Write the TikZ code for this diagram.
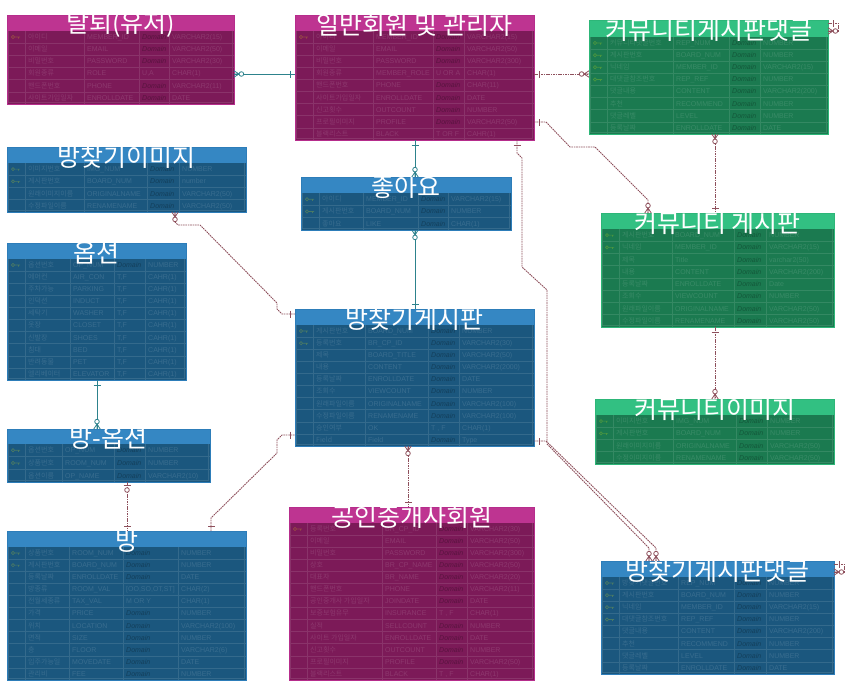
\documentclass[tikz,border=0pt]{standalone}
\usepackage{fontspec}
\setmainfont{Liberation Sans}
\newfontfamily\kr{Noto Sans CJK KR}
\usetikzlibrary{calc}

\definecolor{mghead}{RGB}{190,52,145}
\definecolor{mgbody}{RGB}{124,26,88}
\definecolor{mgline}{RGB}{182,45,140}
\definecolor{blhead}{RGB}{53,135,195}
\definecolor{blbody}{RGB}{27,87,126}
\definecolor{blline}{RGB}{45,125,185}
\definecolor{grhead}{RGB}{50,192,130}
\definecolor{grbody}{RGB}{27,122,80}
\definecolor{grline}{RGB}{45,182,120}
\definecolor{tealc}{RGB}{45,130,140}
\definecolor{brownc}{RGB}{142,80,92}

\newcount\rowi
\newcommand\settable[7]{\def\tX{#2}\def\tA{#3}\def\tB{#4}\def\tC{#5}\def\tD{#6}\def\tXe{#7}%
  \colorlet{cH}{#1head}\colorlet{cB}{#1body}\colorlet{cL}{#1line}%
  \colorlet{cG}{cB!89!white}\colorlet{cT}{cB!87!white}\colorlet{cD}{cB!72!black}\colorlet{cK}{cB!80!yellow}}
% #1 name, #2 top, #3 header bottom, #4 bottom, #5 rows
\newcommand\ertable[5]{\def\tname{#1}\def\tY{#2}\def\tH{#3}%
  \pgfmathsetmacro\tR{(#4-#3)/#5}\global\rowi=0
  \fill[cH] (\tX,-#2) rectangle (\tXe,-#3);
  \fill[cB] (\tX,-#3) rectangle (\tXe,-#4);
  \pgfmathtruncatemacro\tN{#5-1}
  \foreach \i in {1,...,\tN}{\draw[cG,line width=0.6pt] (\tX,{-(\tH+\i*\tR)}) -- (\tXe,{-(\tH+\i*\tR)});}
  \foreach \cc in {\tA,\tB,\tC,\tD}{\draw[cG,line width=0.6pt] (\cc,-#3) -- (\cc,-#4);}
  \draw[cG,line width=0.6pt] (\tX+1.5,-#3) -- (\tX+1.5,-#4+1.5) -- (\tXe-1.5,-#4+1.5) -- (\tXe-1.5,-#3);
  \pgfmathsetmacro\tW{\tXe-\tX}\pgfmathsetmacro\tHt{#4-#2}
  \node[draw=cL,line width=1pt,inner sep=0pt,outer sep=0pt,minimum width=\tW pt,minimum height=\tHt pt,anchor=north west] (#1) at (\tX,-#2) {};
}
\newcommand\D{{\color{cD}\itshape Domain}}
\newcommand\erow[5]{\global\advance\rowi by 1
  \pgfmathsetmacro\ry{-(\tH+(\the\rowi-0.5)*\tR)}
  \if n#1\else \draw[cK,line width=0.7pt] (\tX+6,\ry) circle (1.6) (\tX+7.6,\ry) -- (\tX+13,\ry) (\tX+11.5,\ry) -- ++(0,-1.6);\fi
  \node[rt] (\tname-\the\rowi-a) at (\tA+3,\ry-2.4) {\kr #2};
  \node[rt] (\tname-\the\rowi-b) at (\tB+3,\ry-2.4) {#3};
  \node[rt] (\tname-\the\rowi-c) at (\tC+3,\ry-2.4) {#4};
  \node[rt] (\tname-\the\rowi-d) at (\tD+3,\ry-2.4) {#5};
}
\newcommand\etitle[1]{\node[titletext] (\tname-title) at ({(\tX+\tXe)/2},{-((\tY+\tH)/2+2)}) {#1};}

\tikzset{
  rt/.style={anchor=base west,inner sep=0pt,text=cT,font=\fontsize{7}{8}\selectfont},
  titletext/.style={inner sep=0pt,text=white,font=\kr\fontsize{25}{26}\selectfont},
  tline/.style={draw=tealc,line width=0.9pt},
  bline/.style={draw=brownc,line width=0.9pt,dash pattern=on 1.6pt off 0.8pt},
  mk/.style={line width=0.8pt,solid},
  pics/one/.style={code={\draw[mk] (5,-3.5) -- (5,3.5);}},
  pics/zm/.style={code={\draw[mk] (0,-3.2) -- (5,0) -- (0,3.2) (0,0) -- (5,0); \draw[mk,fill=white] (7.4,0) circle (2.3);}},
  pics/zo/.style={code={\draw[mk] (3,-3.5) -- (3,3.5); \draw[mk,fill=white] (8,0) circle (2.3);}},
}

\begin{document}
\begin{tikzpicture}[x=1pt,y=1pt]
\useasboundingbox[fill=white] (0,0) rectangle (859,-699);

% 탈퇴(유저)
\settable{mg}{7}{25}{84}{139}{169}{234}
\ertable{tt}{15}{31}{104}{6}
\erow{p}{아이디}{MEMBER\_ID}{\D}{VARCHAR2(15)}
\erow{n}{이메일}{EMAIL}{\D}{VARCHAR2(50)}
\erow{n}{비밀번호}{PASSWORD}{\D}{VARCHAR2(30)}
\erow{n}{회원종류}{ROLE}{U,A}{CHAR(1)}
\erow{n}{핸드폰번호}{PHONE}{\D}{VARCHAR2(11)}
\erow{n}{사이트가입일자}{ENROLLDATE}{\D}{DATE}
\etitle{탈퇴(유저)}

% 일반회원 및 관리자
\settable{mg}{295}{313}{373}{433}{464}{534}
\ertable{gm}{15}{31}{140}{9}
\erow{p}{아이디}{MEMBER\_ID}{\D}{VARCHAR2(15)}
\erow{n}{이메일}{EMAIL}{\D}{VARCHAR2(50)}
\erow{n}{비밀번호}{PASSWORD}{\D}{VARCHAR2(300)}
\erow{n}{회원종류}{MEMBER\_ROLE}{U OR A}{CHAR(1)}
\erow{n}{핸드폰번호}{PHONE}{\D}{CHAR(11)}
\erow{n}{사이트가입일자}{ENROLLDATE}{\D}{DATE}
\erow{n}{신고횟수}{OUTCOUNT}{\D}{NUMBER}
\erow{n}{프로필이미지}{PROFILE}{\D}{VARCHAR2(50)}
\erow{n}{블랙리스트}{BLACK}{T OR F}{CAHR(1)}
\etitle{일반회원 및 관리자}

% 커뮤니티게시판댓글
\settable{gr}{589}{607}{673}{729}{760}{828}
\ertable{cr}{20}{37}{134}{8}
\erow{p}{커뮤니티댓글번호}{REP\_NUM}{\D}{NUMBER}
\erow{f}{게시판번호}{BOARD\_NUM}{\D}{NUMBER}
\erow{f}{닉네임}{MEMBER\_ID}{\D}{VARCHAR2(15)}
\erow{f}{대댓글참조번호}{REP\_REF}{\D}{NUMBER}
\erow{n}{댓글내용}{CONTENT}{\D}{VARCHAR2(200)}
\erow{n}{추천}{RECOMMEND}{\D}{NUMBER}
\erow{n}{댓글레벨}{LEVEL}{\D}{NUMBER}
\erow{n}{등록날짜}{ENROLLDATE}{\D}{DATE}
\etitle{커뮤니티게시판댓글}

% 방찾기이미지
\settable{bl}{7}{25}{84}{147}{179}{246}
\ertable{bi}{147}{163}{212}{4}
\erow{p}{이미지번호}{IMG\_NUM}{\D}{NUMBER}
\erow{f}{게시판번호}{BOARD\_NUM}{\D}{number}
\erow{n}{원래이미지이름}{ORIGINALNAME}{\D}{VARCHAR2(50)}
\erow{n}{수정파일이름}{RENAMENAME}{\D}{VARCHAR2(50)}
\etitle{방찾기이미지}

% 옵션
\settable{bl}{7}{25}{70}{114}{145}{186}
\ertable{op}{243}{259}{380}{10}
\erow{p}{옵션번호}{OP\_NUM}{\D}{NUMBER}
\erow{n}{에어컨}{AIR\_CON}{T,F}{CAHR(1)}
\erow{n}{주차가능}{PARKING}{T,F}{CAHR(1)}
\erow{n}{인덕션}{INDUCT}{T,F}{CAHR(1)}
\erow{n}{세탁기}{WASHER}{T,F}{CAHR(1)}
\erow{n}{옷장}{CLOSET}{T,F}{CAHR(1)}
\erow{n}{신발장}{SHOES}{T,F}{CAHR(1)}
\erow{n}{침대}{BED}{T,F}{CAHR(1)}
\erow{n}{반려동물}{PET}{T,F}{CAHR(1)}
\erow{n}{엘리베이터}{ELEVATOR}{T,F}{CAHR(1)}
\etitle{옵션}

% 좋아요
\settable{bl}{301}{319}{363}{418}{448}{511}
\ertable{lk}{177}{193}{230}{3}
\erow{p}{아이디}{MEMBER\_ID}{\D}{VARCHAR2(15)}
\erow{p}{게시판번호}{BOARD\_NUM}{\D}{NUMBER}
\erow{n}{좋아요}{LIKE}{\D}{CHAR(1)}
\etitle{좋아요}

% 방찾기게시판
\settable{bl}{295}{313}{365}{428}{459}{534}
\ertable{bb}{309}{325}{446}{10}
\erow{p}{게시판번호}{BOARD\_NUM}{\D}{NUMBER}
\erow{f}{등록번호}{BR\_CP\_ID}{\D}{VARCHAR2(30)}
\erow{n}{제목}{BOARD\_TITLE}{\D}{VARCHAR2(50)}
\erow{n}{내용}{CONTENT}{\D}{VARCHAR2(2000)}
\erow{n}{등록날짜}{ENROLLDATE}{\D}{DATE}
\erow{n}{조회수}{VIEWCOUNT}{\D}{NUMBER}
\erow{n}{원래파일이름}{ORIGINALNAME}{\D}{VARCHAR2(100)}
\erow{n}{수정파일이름}{RENAMENAME}{\D}{VARCHAR2(100)}
\erow{n}{승인여부}{OK}{T , F}{CHAR(1)}
\erow{n}{Field}{Field}{\D}{Type}
\etitle{방찾기게시판}

% 커뮤니티 게시판
\settable{gr}{601}{619}{672}{734}{766}{834}
\ertable{cb}{213}{229}{327}{8}
\erow{p}{게시판번호}{BOARD\_NUM}{\D}{NUMBER}
\erow{f}{닉네임}{MEMBER\_ID}{\D}{VARCHAR2(15)}
\erow{n}{제목}{Title}{\D}{varchar2(50)}
\erow{n}{내용}{CONTENT}{\D}{VARCHAR2(200)}
\erow{n}{등록날짜}{ENROLLDATE}{\D}{Date}
\erow{n}{조회수}{VIEWCOUNT}{\D}{NUMBER}
\erow{n}{원래파일이름}{ORIGINALNAME}{\D}{VARCHAR2(50)}
\erow{n}{수정파일이름}{RENAMENAME}{\D}{VARCHAR2(50)}
\etitle{커뮤니티 게시판}

% 커뮤니티이미지
\settable{gr}{595}{613}{673}{736}{767}{834}
\ertable{ci}{399}{415}{464}{4}
\erow{p}{이미지번호}{IMG\_NUM}{\D}{NUMBER}
\erow{f}{게시판번호}{BOARD\_NUM}{\D}{NUMBER}
\erow{n}{원래이미지이름}{ORIGINALNAME}{\D}{VARCHAR2(50)}
\erow{n}{수정이미지이름}{RENAMENAME}{\D}{VARCHAR2(50)}
\etitle{커뮤니티이미지}

% 방-옵션
\settable{bl}{7}{25}{62}{114}{145}{210}
\ertable{ro}{429}{444}{482}{3}
\erow{p}{옵션번호}{OP\_NUM}{\D}{NUMBER}
\erow{f}{상품번호}{ROOM\_NUM}{\D}{NUMBER}
\erow{n}{옵션이름}{OP\_NAME}{\D}{VARCHAR2(10)}
\etitle{방-옵션}

% 방
\settable{bl}{7}{25}{69}{123}{178}{246}
\ertable{rm}{531}{547}{680}{11}
\erow{p}{상품번호}{ROOM\_NUM}{\D}{NUMBER}
\erow{f}{게시판번호}{BOARD\_NUM}{\D}{NUMBER}
\erow{n}{등록날짜}{ENROLLDATE}{\D}{DATE}
\erow{n}{방종류}{ROOM\_VAL}{[OO,SO,OT,ST]}{CHAR(2)}
\erow{n}{전월세종류}{TAX\_VAL}{M OR Y}{CHAR(1)}
\erow{n}{가격}{PRICE}{\D}{NUMBER}
\erow{n}{위치}{LOCATION}{\D}{VARCHAR2(100)}
\erow{n}{면적}{SIZE}{\D}{NUMBER}
\erow{n}{층}{FLOOR}{\D}{VARCHAR2(6)}
\erow{n}{입주가능일}{MOVEDATE}{\D}{DATE}
\erow{n}{관리비}{FEE}{\D}{NUMBER}
\etitle{방}

% 공인중개사회원
\settable{mg}{289}{307}{382}{436}{467}{534}
\ertable{br}{507}{523}{680}{13}
\erow{p}{등록번호}{BR\_CP\_ID}{\D}{VARCHAR2(30)}
\erow{n}{이메일}{EMAIL}{\D}{VARCHAR2(50)}
\erow{n}{비밀번호}{PASSWORD}{\D}{VARCHAR2(300)}
\erow{n}{상호}{BR\_CP\_NAME}{\D}{VARCHAR2(50)}
\erow{n}{대표자}{BR\_NAME}{\D}{VARCHAR2(20)}
\erow{n}{핸드폰번호}{PHONE}{\D}{VARCHAR2(11)}
\erow{n}{공인중개사 가입일자}{JOINDATE}{\D}{DATE}
\erow{n}{보증보험유무}{INSURANCE}{T , F}{CHAR(1)}
\erow{n}{실적}{SELLCOUNT}{\D}{NUMBER}
\erow{n}{사이트 가입일자}{ENROLLDATE}{\D}{DATE}
\erow{n}{신고횟수}{OUTCOUNT}{\D}{NUMBER}
\erow{n}{프로필이미지}{PROFILE}{\D}{VARCHAR2(50)}
\erow{n}{블랙리스트}{BLACK}{T , F}{CHAR(1)}
\etitle{공인중개사회원}

% 방찾기게시판댓글
\settable{bl}{601}{619}{678}{734}{766}{834}
\ertable{bc}{561}{577}{674}{8}
\erow{p}{방찾기댓글번호}{REP\_NUM}{\D}{NUMBER}
\erow{f}{게시판번호}{BOARD\_NUM}{\D}{NUMBER}
\erow{f}{닉네임}{MEMBER\_ID}{\D}{VARCHAR2(15)}
\erow{f}{대댓글참조번호}{REP\_REF}{\D}{NUMBER}
\erow{n}{댓글내용}{CONTENT}{\D}{VARCHAR2(200)}
\erow{n}{추천}{RECOMMEND}{\D}{NUMBER}
\erow{n}{댓글레벨}{LEVEL}{\D}{NUMBER}
\erow{n}{등록날짜}{ENROLLDATE}{\D}{DATE}
\etitle{방찾기게시판댓글}

% ---------- connectors ----------
% A
\coordinate (a1) at ([yshift=-59]tt.north east);
\coordinate (a2) at ([yshift=-59]gm.north west);
\draw[tline] (a1) -- (a2);
\pic[color=tealc] at (a1) {zm};
\pic[color=tealc,rotate=180] at (a2) {one};
% B
\coordinate (b1) at ([xshift=120]gm.south west);
\coordinate (b2) at (b1 |- lk.north);
\draw[tline] (b1) -- (b2);
\pic[color=tealc,rotate=-90] at (b1) {one};
\pic[color=tealc,rotate=90] at (b2) {zm};
% C
\coordinate (c1) at (b1 |- lk.south);
\coordinate (c2) at (b1 |- bb.north);
\draw[tline] (c1) -- (c2);
\pic[color=tealc,rotate=-90] at (c1) {zm};
\pic[color=tealc,rotate=90] at (c2) {one};
% D
\coordinate (d1) at ([yshift=-59]gm.north east);
\coordinate (d2) at (d1 -| cr.west);
\draw[bline] (d1) -- (d2);
\pic[color=brownc] at (d1) {one};
\pic[color=brownc,rotate=180] at (d2) {zm};
% E
\coordinate (e1) at ([yshift=-107]gm.north east);
\coordinate (e2) at ([xshift=47]cb.north west);
\draw[bline] (e1) -- ++(12,0) -- ++(24,-25) -- ++(25,0) -- ($(e2)+(0,13)$) -- (e2);
\pic[color=brownc] at (e1) {one};
\pic[color=brownc,rotate=90] at (e2) {zm};
% F
\coordinate (f1) at ([xshift=222]gm.south west);
\coordinate (f2) at ([xshift=48]bc.north west);
\draw[bline] (f1) -- ++(0,-13) -- ++(5,-5) -- ++(0,-109) -- ++(25,-23) -- ++(0,-154) -- ($(f2)+(0,13)$) -- (f2);
\pic[color=brownc,rotate=-90] at (f1) {one};
\pic[color=brownc,rotate=90] at (f2) {zm};
% G
\coordinate (g1) at ([yshift=-132]bb.north east);
\coordinate (g2) at ([xshift=55]bc.north west);
\draw[bline] (g1) -- ++(12,0) -- ($(g2)+(0,13)$) -- (g2);
\pic[color=brownc] at (g1) {one};
\pic[color=brownc,rotate=90] at (g2) {zm};
% H
\coordinate (h1) at ([xshift=168]bi.south west);
\coordinate (h2) at ([yshift=-5]bb.north west);
\draw[bline] (h1) -- ++(0,-10) -- ++(3,-3) -- ++(22,0) -- ++(77,-78) -- ++(0,-6) -- ++(5,-5) -- (h2);
\pic[color=brownc,rotate=-90] at (h1) {zm};
\pic[color=brownc,rotate=180] at (h2) {one};
% I
\coordinate (i1) at ([xshift=90]op.south west);
\coordinate (i2) at (i1 |- ro.north);
\draw[tline] (i1) -- (i2);
\pic[color=tealc,rotate=-90] at (i1) {one};
\pic[color=tealc,rotate=90] at (i2) {zm};
% J
\coordinate (j1) at ([xshift=120]ro.south west);
\coordinate (j2) at (j1 |- rm.north);
\draw[bline] (j1) -- (j2);
\pic[color=brownc,rotate=-90] at (j1) {zo};
\pic[color=brownc,rotate=90] at (j2) {one};
% K
\coordinate (k1) at ([xshift=204]rm.north west);
\coordinate (k2) at ([yshift=-126]bb.north west);
\draw[bline] (k1) -- ++(0,13) -- ++(66,65) -- ++(0,13) -- ++(5,5) -- (k2);
\pic[color=brownc,rotate=90] at (k1) {one};
\pic[color=brownc,rotate=180] at (k2) {one};
% L
\coordinate (l1) at ([xshift=113]bb.south west);
\coordinate (l2) at (l1 |- br.north);
\draw[bline] (l1) -- (l2);
\pic[color=brownc,rotate=-90] at (l1) {zm};
\pic[color=brownc,rotate=90] at (l2) {one};
% M
\coordinate (m1) at ([xshift=126]cr.south west);
\coordinate (m2) at (m1 |- cb.north);
\draw[bline] (m1) -- (m2);
\pic[color=brownc,rotate=-90] at (m1) {zm};
\pic[color=brownc,rotate=90] at (m2) {one};
% N
\coordinate (n1) at ([xshift=114]cb.south west);
\coordinate (n2) at (n1 |- ci.north);
\draw[bline] (n1) -- (n2);
\pic[color=brownc,rotate=-90] at (n1) {one};
\pic[color=brownc,rotate=90] at (n2) {zm};
% self loops
\coordinate (o1) at ([yshift=-3]cr.north east);
\coordinate (o2) at ([yshift=-11]cr.north east);
\draw[bline] (o1) -- ++(10,0) -- ++(0,-8) -- (o2);
\pic[color=brownc] at (o1) {one};
\pic[color=brownc] at (o2) {zm};
\coordinate (p1) at ([yshift=-3]bc.north east);
\coordinate (p2) at ([yshift=-11]bc.north east);
\draw[bline] (p1) -- ++(10,0) -- ++(0,-8) -- (p2);
\pic[color=brownc] at (p1) {one};
\pic[color=brownc] at (p2) {zm};
\end{tikzpicture}
\end{document}
